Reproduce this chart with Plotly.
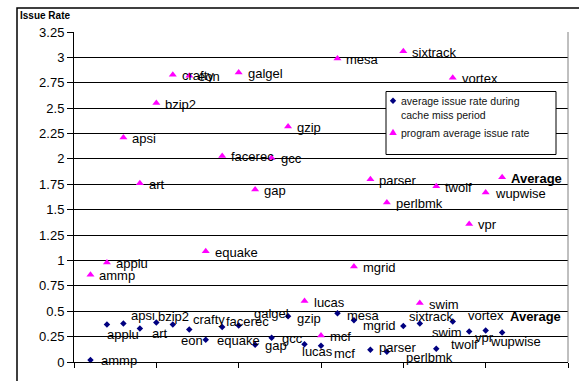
import plotly.graph_objects as go

# SPEC CPU2000 benchmarks plus the overall average
benchmarks = ["ammp", "applu", "apsi", "art", "bzip2", "crafty", "eon", "equake",
              "facerec", "galgel", "gap", "gcc", "gzip", "lucas", "mcf", "mesa",
              "mgrid", "parser", "perlbmk", "sixtrack", "swim", "twolf", "vortex",
              "vpr", "wupwise", "Average"]

# issue rate while a cache miss is outstanding
miss_issue_rate = [0.02, 0.37, 0.38, 0.33, 0.39, 0.37, 0.32, 0.22, 0.345, 0.36,
                   0.17, 0.24, 0.45, 0.175, 0.16, 0.48, 0.41, 0.12, 0.10, 0.355,
                   0.38, 0.13, 0.40, 0.30, 0.31, 0.29]

# whole-program average issue rate
program_issue_rate = [0.86, 0.98, 2.21, 1.76, 2.55, 2.83, 2.82, 1.09, 2.03, 2.85,
                      1.70, 2.01, 2.32, 0.60, 0.26, 2.99, 0.94, 1.80, 1.57, 3.06,
                      0.58, 1.73, 2.80, 1.36, 1.67, 1.82]

y_ticks = [0, 0.25, 0.5, 0.75, 1, 1.25, 1.5, 1.75, 2, 2.25, 2.5, 2.75, 3, 3.25]
y_tick_text = ["0", "0.25", "0.5", "0.75", "1", "1.25", "1.5", "1.75", "2",
               "2.25", "2.5", "2.75", "3", "3.25"]

legend_miss = "average issue rate during<br>cache miss period"
legend_program = "program average issue rate"
axis_title = "Issue Rate"

x_pos = list(range(1, len(benchmarks) + 1))

NAVY = "#000080"
MAGENTA = "#FF00FF"
FONT = "Liberation Sans, Arial, sans-serif"

W, H = 579, 381
ML, MR, MT, MB = 74, 11, 32, 19
PW, PH = W - ML - MR, H - MT - MB


def px(x):
    return (x - ML) / PW


def py(y):
    return (H - MB - y) / PH


# hand-placed label offsets (pixels right, pixels down) for the crowded lower series
miss_label_offset = {
    "ammp": (9, 1), "applu": (-2, 10), "apsi": (6, -8), "art": (10, 5),
    "bzip2": (0, -6), "crafty": (18, -5), "eon": (-10, 11), "equake": (9, 1),
    "facerec": (2, -5), "galgel": (13, -12), "gap": (8, 1), "gcc": (8, 1),
    "gzip": (7, 2), "lucas": (-5, 7), "mcf": (11, 8), "mesa": (8, 2),
    "mgrid": (7, 5), "parser": (7, -2), "perlbmk": (17, 6), "sixtrack": (4, -9),
    "swim": (10, 9), "twolf": (13, -4), "vortex": (13, -6), "vpr": (4, 6),
    "wupwise": (2, 11), "Average": (6, -16),
}

fig = go.Figure()

fig.add_trace(go.Scatter(
    x=x_pos, y=miss_issue_rate, mode="markers", name=legend_miss,
    marker=dict(symbol="diamond", size=5, color=NAVY, line=dict(width=0)),
    showlegend=False, cliponaxis=False,
))
fig.add_trace(go.Scatter(
    x=x_pos, y=program_issue_rate, mode="markers", name=legend_program,
    marker=dict(symbol="triangle-up", size=7, color=MAGENTA, line=dict(width=0)),
    showlegend=False, cliponaxis=False,
))

annotations = []


def label_text(name):
    return f"<b>{name}</b>" if name == "Average" else name


for xv, yv, name in zip(x_pos, program_issue_rate, benchmarks):
    annotations.append(dict(
        x=xv, y=yv, xref="x", yref="y", text=label_text(name), showarrow=False,
        xanchor="left", yanchor="middle", xshift=7, yshift=-1,
        font=dict(family=FONT, size=13, color="black"),
    ))

for xv, yv, name in zip(x_pos, miss_issue_rate, benchmarks):
    dx, dy = miss_label_offset[name]
    annotations.append(dict(
        x=xv, y=yv, xref="x", yref="y", text=label_text(name), showarrow=False,
        xanchor="left", yanchor="middle", xshift=dx, yshift=-dy,
        font=dict(family=FONT, size=13, color="black"),
    ))

# axis title in the top-left corner
annotations.append(dict(
    x=px(18), y=py(15.5), xref="paper", yref="paper", text=f"<b>{axis_title}</b>",
    showarrow=False, xanchor="left", yanchor="middle",
    font=dict(family=FONT, size=10, color="black"),
))

# legend text
legend_font = dict(family=FONT, size=10.5, color="#111")
annotations.append(dict(
    x=px(399), y=py(108), xref="paper", yref="paper", text=legend_miss,
    showarrow=False, xanchor="left", yanchor="middle", align="left",
    font=legend_font,
))
annotations.append(dict(
    x=px(399), y=py(132.7), xref="paper", yref="paper", text=legend_program,
    showarrow=False, xanchor="left", yanchor="middle", font=legend_font,
))

shapes = []
# outer chart frame
shapes.append(dict(type="rect", xref="paper", yref="paper",
                   x0=px(17), x1=px(590), y0=py(395), y1=py(8),
                   line=dict(color="black", width=1.5), fillcolor="rgba(0,0,0,0)",
                   layer="below"))
# plot area frame (right side)
shapes.append(dict(type="line", xref="paper", yref="paper", x0=1, x1=1, y0=0, y1=1,
                   line=dict(color="#808080", width=1)))
# legend box and keys
shapes.append(dict(type="rect", xref="paper", yref="paper",
                   x0=px(386), x1=px(556), y0=py(154.5), y1=py(91.5),
                   line=dict(color="black", width=1), fillcolor="white",
                   layer="above"))


def key_path(cx, cy, kind):
    if kind == "diamond":
        pts = [(cx, cy - 3.2), (cx + 3.2, cy), (cx, cy + 3.2), (cx - 3.2, cy)]
    else:
        pts = [(cx, cy - 3.5), (cx + 3.8, cy + 2.8), (cx - 3.8, cy + 2.8)]
    return "M " + " L ".join(f"{px(a):.5f},{py(b):.5f}" for a, b in pts) + " Z"


shapes.append(dict(type="path", xref="paper", yref="paper",
                   path=key_path(393, 100.7, "diamond"),
                   fillcolor=NAVY, line=dict(width=0), layer="above"))
shapes.append(dict(type="path", xref="paper", yref="paper",
                   path=key_path(393, 132.2, "triangle"),
                   fillcolor=MAGENTA, line=dict(width=0), layer="above"))

fig.update_layout(
    width=W, height=H,
    margin=dict(l=ML, r=MR, t=MT, b=MB, pad=0),
    paper_bgcolor="white", plot_bgcolor="white",
    showlegend=False,
    annotations=annotations,
    shapes=shapes,
    xaxis=dict(
        range=[0, 30], tickmode="linear", tick0=0, dtick=5,
        showticklabels=False, ticks="outside", ticklen=5, tickcolor="black",
        showgrid=False, zeroline=False, showline=True, linecolor="black",
        linewidth=1, fixedrange=True,
    ),
    yaxis=dict(
        range=[0, 3.25], tickmode="array", tickvals=y_ticks, ticktext=y_tick_text,
        ticks="outside", ticklen=6, tickcolor="black",
        tickfont=dict(family=FONT, size=13, color="black"),
        showgrid=True, gridcolor="black", gridwidth=1,
        zeroline=False, showline=True, linecolor="black", linewidth=1,
        fixedrange=True,
    ),
)

fig.write_html("out.html", config=dict(displayModeBar=False))
